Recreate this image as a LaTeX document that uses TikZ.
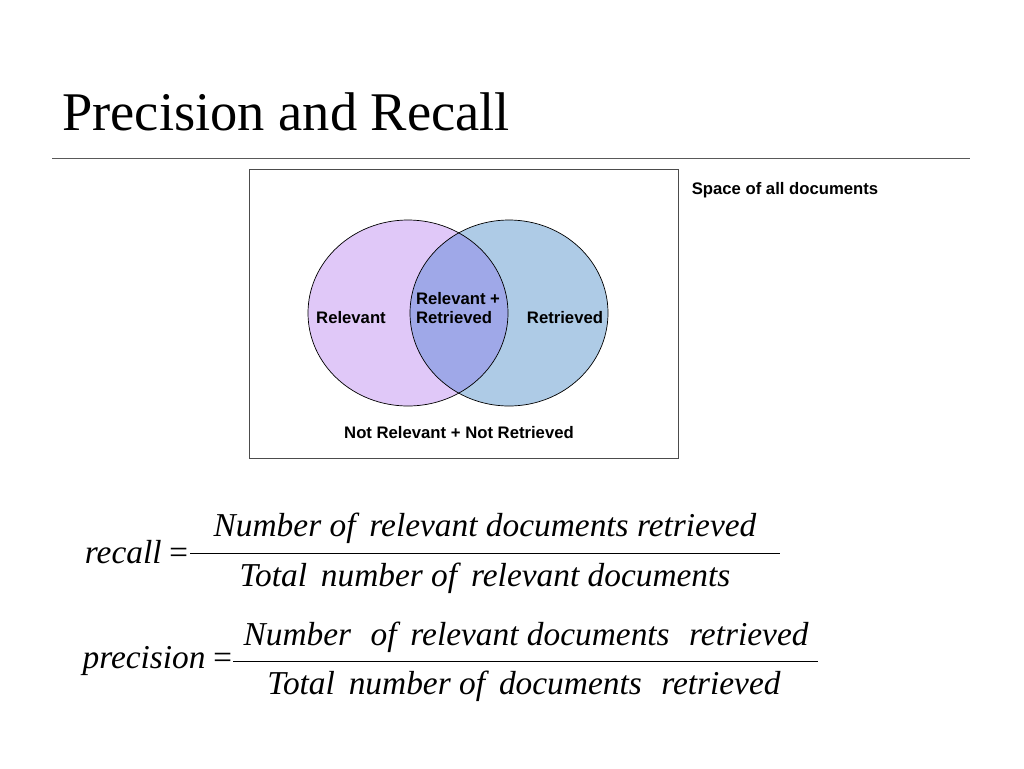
\documentclass[tikz,border=0pt]{standalone}
\usepackage{fontspec}
\setmainfont{Liberation Serif}
\setsansfont{Liberation Sans}
\tikzset{
  lbl/.style={font=\sffamily\bfseries\fontsize{9.5}{11}\selectfont, align=left},
  frm/.style={font=\itshape\fontsize{19}{22}\selectfont, inner sep=0pt},
}
\begin{document}
\begin{tikzpicture}[x=0.02cm, y=-0.02cm]
\useasboundingbox (0,0) rectangle (1024,768);

\node [anchor=base west, inner sep=0pt, font=\fontsize{31}{36}\selectfont] (title) at (62,130) {Precision and Recall};
\draw [gray!70!black] (52,158) -- (970,158);

\draw [black!70] (249,169) rectangle (678,458);
\fill [fill={rgb,255:red,224;green,200;blue,248}] (408,313) ellipse [x radius=100, y radius=93];
\fill [fill={rgb,255:red,174;green,203;blue,230}] (509,313) ellipse [x radius=99, y radius=93];
\begin{scope}
\clip (408,313) ellipse [x radius=100, y radius=93];
\fill [fill={rgb,255:red,159;green,168;blue,232}] (509,313) ellipse [x radius=99, y radius=93];
\end{scope}
\draw (408,313) ellipse [x radius=100, y radius=93];
\draw (509,313) ellipse [x radius=99, y radius=93];

\node [lbl] (rel) at (351,318) {Relevant};
\node [lbl] (both) at (458,308) {Relevant +\\Retrieved};
\node [lbl] (ret) at (565,318) {Retrieved};
\node [lbl] (none) at (459,433) {Not Relevant + Not Retrieved};
\node [lbl] (space) at (785,190) {Space of all documents};

% recall
\node [frm, anchor=east] (recall) at (190,552) {recall\,=};
\draw (190,553) -- (780,553);
\node [frm] (rnum) at (485,528) {Number of\, relevant documents retrieved};
\node [frm] (rden) at (485,578) {Total\, number of\, relevant documents};

% precision
\node [frm, anchor=east] (prec) at (234,661) {precision\,=};
\draw (233,661) -- (818,661);
\node [frm] (pnum) at (526,637) {Number\,\, of\, relevant documents\,\, retrieved};
\node [frm] (pden) at (524,686) {Total\, number of\, documents\,\, retrieved};
\end{tikzpicture}
\end{document}
